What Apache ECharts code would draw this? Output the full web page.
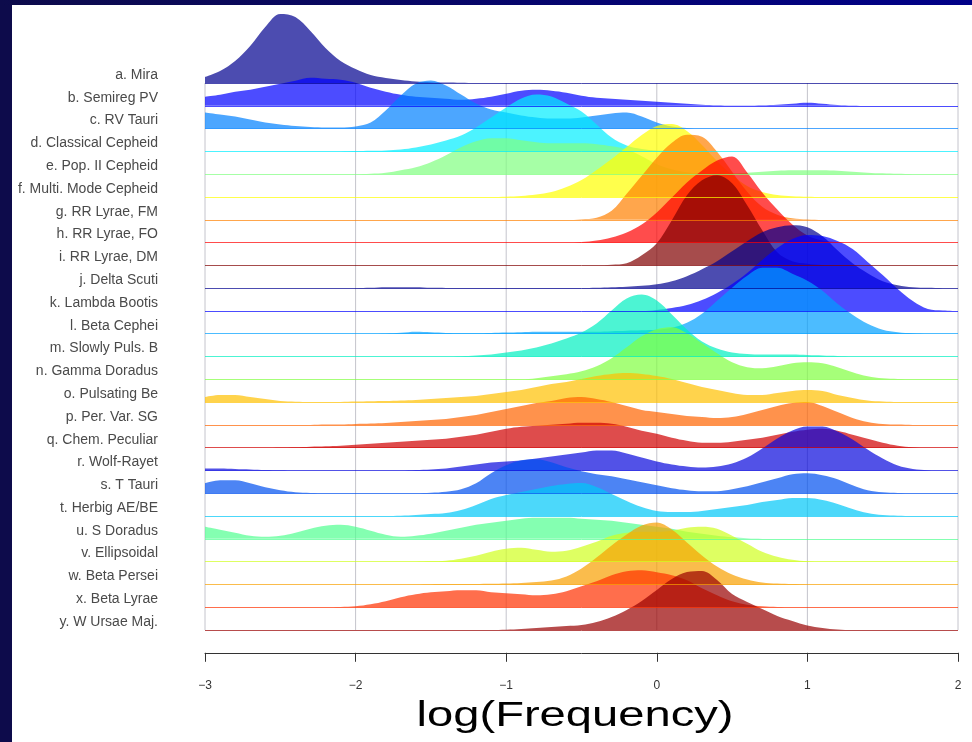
<!DOCTYPE html>
<html><head><meta charset="utf-8">
<script src="https://cdn.jsdelivr.net/npm/echarts@6/dist/echarts.min.js"></script>
<style>html,body{margin:0;padding:0;background:#fff}#c{width:972px;height:742px}</style>
</head><body><div id="c"></div>
<script>
// x positions (log frequency) at which densities were read
const xValues = [-3,-2.9,-2.8,-2.7,-2.6,-2.5,-2.4,-2.3,-2.2,-2.1,-2,-1.9,-1.8,-1.7,-1.6,-1.5,-1.4,-1.3,-1.2,-1.1,-1,-0.9,-0.8,-0.7,-0.6,-0.5,-0.4,-0.3,-0.2,-0.1,0,0.1,0.2,0.3,0.4,0.5,0.6,0.7,0.8,0.9,1,1.1,1.2,1.3,1.4,1.5,1.6,1.7,1.8,1.9,2];
const xTicks = [-3,-2,-1,0,1,2];
const xTitle = 'log(Frequency)';
const classNames = ['a. Mira','b. Semireg PV','c. RV Tauri','d. Classical Cepheid','e. Pop. II Cepheid','f. Multi. Mode Cepheid','g. RR Lyrae, FM','h. RR Lyrae, FO','i. RR Lyrae, DM','j. Delta Scuti','k. Lambda Bootis','l. Beta Cephei','m. Slowly Puls. B','n. Gamma Doradus','o. Pulsating Be','p. Per. Var. SG','q. Chem. Peculiar','r. Wolf-Rayet','s. T Tauri','t. Herbig AE/BE','u. S Doradus','v. Ellipsoidal','w. Beta Persei','x. Beta Lyrae','y. W Ursae Maj.'];

// densities (relative heights) per class, one value per xValues entry
const densMira = [6,12,22,37,56,69,66,52,35,22, 14,8,5,3,1.5,0.8,0.4,0.2,0,0, 0,0,0,0,0,0,0,0,0,0, 0,0,0,0,0,0,0,0,0,0, 0,0,0,0,0,0,0,0,0,0, 0];
const densSemireg = [9,11,14,16,19,22,25,28,27,26, 23,18,14,11,9,8,7,6,7,9, 12,15,16,15,13,10,8,7,6,5, 4,3,2,1,0.5,0.3,0.3,0.5,1,2, 3,2,0.8,0.2,0,0,0,0,0,0, 0];
const densRVTauri = [16,14,12,9,6,4,2.5,1.5,1,1, 2,6,18,33,45,48,43,34,25,19, 16,13,11,10,10,11,13,15,16,12, 6,2,0.5,0,0,0,0,0,0,0, 0,0,0,0,0,0,0,0,0,0, 0];
const densClassCeph = [0,0,0,0,0,0,0,0,0,0, 0.3,0.6,1,2,4,7,11,16,24,34, 44,53,57,55,48,40,27,14,6,2.5, 1,0.5,0.3,0,0,0,0,0,0,0, 0,0,0,0,0,0,0,0,0,0, 0];
const densPop2Ceph = [0,0,0,0,0,0,0,0,0,0, 0,0.5,1.5,4,7,12,19,27,33,36, 36,34,32,31,31,31,30,28,25,18, 10,5,2,1,0.8,1,1.5,2.5,3.5,4, 4,4,3.5,2.5,1.5,0.8,0.3,0,0,0, 0];
const densMultiCeph = [0,0,0,0,0,0,0,0,0,0, 0,0,0,0,0,0,0,0,0,0, 0.3,1,2.5,5,10,17,27,38,50,62, 71,73,66,52,36,22,11,5,2,0.8, 0.3,0,0,0,0,0,0,0,0,0, 0];
const densRRFM = [0,0,0,0,0,0,0,0,0,0, 0,0,0,0,0,0,0,0,0,0, 0,0,0,0,0,0.5,2,9,26,44, 62,77,85,83,68,48,28,13,5,1.5, 0.4,0,0,0,0,0,0,0,0,0, 0];
const densRRFO = [0,0,0,0,0,0,0,0,0,0, 0,0,0,0,0,0,0,0,0,0, 0,0,0,0,0,0.5,2,5,10,18, 30,45,60,72,82,86,70,50,33,18, 7,2,0.5,0,0,0,0,0,0,0, 0];
const densRRDM = [0,0,0,0,0,0,0,0,0,0, 0,0,0,0,0,0,0,0,0,0, 0,0,0,0,0,0,0,0.5,2,10, 22,45,70,85,90,82,60,35,13,4, 1.5,0.4,0,0,0,0,0,0,0,0, 0];
const densDeltaScuti = [0,0,0,0,0,0,0,0,0,0, 0,0.3,1,1,0.8,0.3,0.2,0.2,0.2,0.2, 0.2,0.2,0.2,0.2,0.2,0.2,0.5,1,1.5,2.5, 4,7,12,19,27,37,47,56,61,63, 61,52,38,25,15,7,3,1,0.3,0, 0];
const densLambdaBoo = [0,0,0,0,0,0,0,0,0,0, 0,0,0,0,0,0,0,0,0,0, 0,0,0,0,0,0,0,0,0,0, 1,3,6,11,18,27,38,51,63,72, 76,75,70,62,49,36,22,10,2,0.5, 0];
const densBetaCep = [0,0,0,0,0,0,0,0,0,0, 0,0,0.3,1,2,1.5,0.8,0.5,0.5,0.8, 1.2,1.5,2,2,2,2,2,2.5,3,3.5, 4,6,11,20,33,46,58,66,66,60, 53,43,30,19,10,4,1.5,0.5,0,0, 0];
const densSPB = [0,0,0,0,0,0,0,0,0,0, 0,0,0,0,0,0,0,0.3,1,2, 4,6,9,13,18,24,33,46,58,62, 56,42,27,15,8,4,2.5,2,2,2, 1.5,1,0.5,0,0,0,0,0,0,0, 0];
const densGammaDor = [0,0,0,0,0,0,0,0,0,0, 0,0,0,0,0,0,0,0,0,0, 0,0,1,3,5,8,13,21,32,43, 50,52,46,36,26,17,12,11,13,16, 17,16,12,7,3,1,0.3,0,0,0, 0];
const densPulsBe = [5,7,7,5,3,1,0.3,0,0,0.2, 0.5,0.8,1,1.5,2,3,4,5,6,8, 10,12,15,18,20,23,26,28,29,28, 26,23,19,15,12,9,7,7,9,11, 12,11,7,4,1.5,0.5,0,0,0,0, 0];
const densPerVarSG = [0,0,0,0,0,0,0,0,0.3,0.5, 1,1.5,2,3,4,5,6,8,10,13, 16,19,22,24,27,28,26,23,19,15, 13,11,9,8,7,8,11,15,19,22, 23,19,13,7,3,1,0.3,0,0,0, 0];
const densChemPec = [0,0,0,0,0,0.2,0.5,1,1.5,2, 3,4,5,6,7,8,9,11,13,16, 19,21,22,23,24,25,25,24,21,17, 14,10,7,5,5,6,8,10,13,16, 18,19,17,13,9,5,2,0.5,0,0, 0];
const densWolfRayet = [2,2,1.5,1,0.5,0.2,0,0,0,0, 0,0,0,0,0.5,1,2,4,6,8, 9,10,12,14,16,18,20,20,17,13, 9,6,4,3,4,7,13,22,32,40, 44,44,39,31,21,12,5,1.5,0.3,0, 0];
const densTTauri = [10,13,13,10,6,3,1,0.3,0,0, 0,0,0,0,0,0.5,1.5,4,10,20, 28,33,34,31,26,22,19,17,14,11, 8,5,3,2,2,4,7,11,15,19, 20,18,14,8,3,1,0.3,0,0,0, 0];
const densHerbig = [0,0,0,0,0,0,0,0,0,0, 0,0,0,0.3,1,2,3,6,11,17, 21,24,27,30,32,33,29,22,15,9, 5,4,4,5,7,9,11,14,16,18, 18,16,12,7,3,1,0.3,0,0,0, 0];
const densSDor = [12,9,6,3,2,3,6,10,13,14, 12,8,4,2,3,5,8,11,14,16, 18,20,21,21,21,20,19,18,16,14, 12,10,7,5,3,1.5,0.5,0.2,0,0, 0,0,0,0,0,0,0,0,0,0, 0];
const densEllipsoidal = [0,0,0,0,0,0,0,0,0,0, 0,0,0,0,0,0.3,1,3,6,10, 13,14,12,10,11,15,20,26,29,30, 30,31,34,35,33,26,18,10,5,2, 0.5,0,0,0,0,0,0,0,0,0, 0];
const densBetaPer = [0,0,0,0,0,0,0,0,0,0, 0,0,0,0,0,0.2,0.3,0.4,0.5,0.7, 1,1.5,2.5,4,8,16,27,39,50,59, 62,55,42,29,18,10,5,2,0.8,0.3, 0,0,0,0,0,0,0,0,0,0, 0];
const densBetaLyr = [0,0,0,0,0,0,0,0,0,0.3, 1,3,6,10,13,15,16,17,17,15, 14,13,12,13,16,21,26,32,36,37, 35,32,27,19,12,6,2.5,1,0.3,0, 0,0,0,0,0,0,0,0,0,0, 0];
const densWUMa = [0,0,0,0,0,0,0,0,0,0, 0,0,0,0,0,0,0,0,0,0, 0.3,1,2,3,4,5,8,13,20,29, 40,51,58,59,50,36,28,21,14,9, 4.5,2,0.5,0,0,0,0,0,0,0, 0];

const densities = [densMira,densSemireg,densRVTauri,densClassCeph,densPop2Ceph,densMultiCeph,densRRFM,densRRFO,densRRDM,densDeltaScuti,densLambdaBoo,densBetaCep,densSPB,densGammaDor,densPulsBe,densPerVarSG,densChemPec,densWolfRayet,densTTauri,densHerbig,densSDor,densEllipsoidal,densBetaPer,densBetaLyr,densWUMa];

const palette = ['#00008F','#0000FF','#0080FF','#00EEFF','#80FF80','#FFFF00','#FF8000','#FF0000','#800000',
                 '#00008F','#0000FF','#00A0FF','#00F0C0','#80FF40','#FFC000','#FF6400','#D00000',
                 '#0808DD','#0050F0','#00C8F8','#50FF90','#D0FF20','#F8A000','#FF3000','#990000'];

const nRows = classNames.length;          // 25
const rowPx = (630 - 83) / 24;            // pixel spacing between ridges
const densScale = 1 / rowPx;              // density units -> row units
const yMin = -1, yMax = 27.5;

const chart = echarts.init(document.getElementById('c'), null, {renderer:'canvas'});
const series = [];
xTicks.forEach(t => {
  series.push({
    type:'line', silent:true, symbol:'none', z:1,
    data:[[t,0],[t,nRows-1]],
    lineStyle:{color:'#c4c4cc', width:1}
  });
});
densities.forEach((d,i) => {
  const base = nRows - 1 - i;
  series.push({
    type:'line', name:classNames[i], silent:true, symbol:'none', showSymbol:false,
    smooth:0.35, z:2,
    data: xValues.map((x,k) => [x, base + d[k]*densScale]),
    lineStyle:{width:0},
    areaStyle:{color:palette[i], opacity:0.7, origin:base},
    markLine:{silent:true, symbol:'none', animation:false, label:{show:false},
      lineStyle:{color:palette[i], width:1, type:'solid', opacity:0.7},
      data:[{yAxis:base}]}
  });
});

chart.setOption({
  animation:false,
  backgroundColor:'#ffffff',
  textStyle:{fontFamily:'Liberation Sans, Arial, sans-serif'},
  grid:{left:205, right:14, top:630 - yMax*rowPx, bottom:742 - (630 - yMin*rowPx)},
  xAxis:{
    type:'value', min:-3, max:2, interval:1,
    axisLine:{show:true, onZero:false, lineStyle:{color:'#333', width:1}},
    axisTick:{show:true, length:9, lineStyle:{color:'#333'}},
    splitLine:{show:false},
    axisLabel:{margin:27, fontSize:12, color:'#333',
      formatter:v => v < 0 ? '\u2212' + Math.abs(v) : String(v)}
  },
  yAxis:{
    type:'value', min:yMin, max:yMax, interval:1,
    axisLine:{show:false}, axisTick:{show:false}, splitLine:{show:false},
    axisLabel:{margin:47, fontSize:14, color:'#4a4a4a', verticalAlign:'bottom', lineHeight:16,
      formatter:v => (v >= 0 && v <= nRows-1 && Number.isInteger(v)) ? classNames[nRows-1-v] : ''}
  },
  graphic:[
    {type:'rect', z:100, silent:true, shape:{x:0,y:0,width:12,height:742}, style:{fill:'#0d0b4b'}},
    {type:'rect', z:100, silent:true, shape:{x:0,y:0,width:972,height:5},
      style:{fill:{type:'linear',x:0,y:0,x2:1,y2:0,colorStops:[{offset:0,color:'#0d0b4b'},{offset:1,color:'#000088'}]}}},
    {type:'text', z:100, silent:true, x:575, y:716, scaleX:1.24, scaleY:0.92,
      style:{text:xTitle, fill:'#000', font:'38px "Liberation Sans", Arial, sans-serif', align:'center', verticalAlign:'middle'}}
  ],
  series: series
});
</script></body></html>
